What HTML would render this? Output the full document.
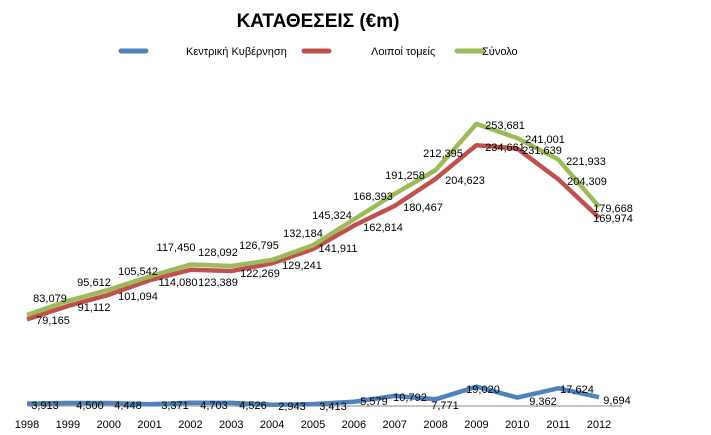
<html><body style="margin:0;background:#fff">
<svg width="711" height="435" xmlns="http://www.w3.org/2000/svg" font-family="Liberation Sans, DejaVu Sans, sans-serif">
<text x="318" y="27" font-size="19" font-weight="bold" text-anchor="middle">ΚΑΤΑΘΕΣΕΙΣ (€m)</text>
<line x1="121" y1="51" x2="146" y2="51" stroke="#4f81bd" stroke-width="5" stroke-linecap="round"/>
<text x="186" y="55" font-size="11">Κεντρική Κυβέρνηση</text>
<line x1="304" y1="51" x2="329" y2="51" stroke="#c0504d" stroke-width="5" stroke-linecap="round"/>
<text x="371" y="55" font-size="11">Λοιποί τομείς</text>
<line x1="457" y1="51" x2="482" y2="51" stroke="#9bbb59" stroke-width="5" stroke-linecap="round"/>
<text x="482" y="55" font-size="11">Σύνολο</text>
<line x1="28" y1="406" x2="622" y2="406" stroke="#888" stroke-width="1"/>
<g id="lines" fill="none" stroke-width="4.5" stroke-linejoin="round"></g>
<g font-size="11" text-anchor="middle" id="yrs"></g>
<g font-size="11" text-anchor="middle" id="lbl"></g>
</svg>
<script>
var ns="http://www.w3.org/2000/svg";
var B=[3913,4500,4448,3371,4703,4526,2943,3413,5579,10792,7771,19020,9362,17624,9694];
var R=[79165,91112,101094,114080,123389,122269,129241,141911,162814,180467,204623,234651,231639,204309,169974];
var G=[83079,95612,105542,117450,128092,126795,132184,145324,168393,191258,212395,253681,241001,221933,179668];
function X(i){return 27+i*40.86}
function Y(v){return 408-v*0.00112}
function line(d,c){var p=document.createElementNS(ns,"polyline");p.setAttribute("points",d.map((v,i)=>X(i)+","+Y(v)).join(" "));p.setAttribute("stroke",c);document.getElementById("lines").appendChild(p)}
line(B,"#4f81bd");line(R,"#c0504d");line(G,"#9bbb59");
function t(g,x,y,s){var e=document.createElementNS(ns,"text");e.setAttribute("x",x);e.setAttribute("y",y);e.textContent=s;document.getElementById(g).appendChild(e)}
for(var i=0;i<15;i++)t("yrs",X(i),428,1998+i);
var gl=[[50,298],[94,282],[138,271],[176,247],[218,252],[259,245],[303,233],[332,215],[373,196],[405,175],[443,153],[505,125],[545,139],[586,161],[613,208]];
var rl=[[53,320],[94,307],[138,296],[178,282],[218,282],[260,273],[302,265],[338,248],[383,227],[423,207],[465,180],[505,147],[542,150],[587,181],[613,218]];
var bl=[[45,409],[90,409],[128,409],[175,409],[214,409],[253,409],[292,410],[333,410],[374,405],[410,401],[445,409],[483,393],[543,405],[577,393],[617,404]];
var rt=R.slice();rt[11]=234661;
function f(v){return v.toLocaleString("en-US")}
for(i=0;i<15;i++){t("lbl",gl[i][0],gl[i][1]+4,f(G[i]));t("lbl",rl[i][0],rl[i][1]+4,f(rt[i]));t("lbl",bl[i][0],bl[i][1],f(B[i]));}
</script>
</body></html>
